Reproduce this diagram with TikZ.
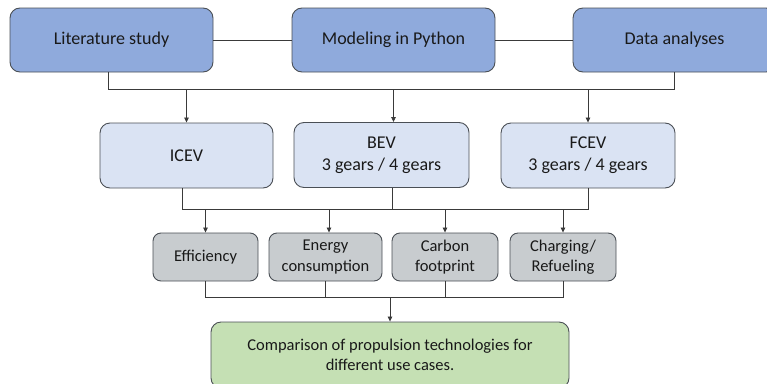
\documentclass[tikz,border=0pt]{standalone}
\usepackage{fontspec}
\setmainfont{Carlito}
\usetikzlibrary{arrows.meta}
\definecolor{topfill}{HTML}{8FAADC}
\definecolor{midfill}{HTML}{DAE3F3}
\definecolor{grayfill}{HTML}{C8CCCF}
\definecolor{greenfill}{HTML}{C5E0B4}
\definecolor{edge}{HTML}{4A4F55}
\definecolor{conn}{HTML}{3A3A3A}
\tikzset{
  box/.style={draw=edge, line width=0.9pt, rounded corners=10pt, align=center, inner sep=0pt, text=black!90},
  topbox/.style={box, fill=topfill, minimum width=203pt, minimum height=64pt, font=\fontsize{18}{22}\selectfont},
  midbox/.style={box, fill=midfill, minimum height=65pt, font=\fontsize{18}{22}\selectfont},
  graybox/.style={box, fill=grayfill, rounded corners=8pt, minimum height=48pt, font=\fontsize{16.5}{20.5}\selectfont},
  greenbox/.style={box, fill=greenfill, minimum width=358pt, minimum height=66pt, font=\fontsize{16.5}{20.5}\selectfont},
  conn/.style={draw=conn, line width=0.8pt},
  arr/.style={conn, -{Triangle[length=5pt,width=4.5pt]}}
}
\begin{document}
\begin{tikzpicture}[x=1pt,y=-1pt]
\useasboundingbox (0,0) rectangle (767,383);
\clip (0,0) rectangle (767,383);
% top row
\node[topbox] (lit) at (111.5,40) {Literature study};
\node[topbox] (mod) at (393.5,40) {Modeling in Python};
\node[topbox] (data) at (674.5,40) {Data analyses};
% middle row
\node[midbox, minimum width=173pt] (icev) at (186.5,155.5) {ICEV};
\node[midbox, minimum width=175pt] (bev) at (381.5,155) {BEV\\3 gears / 4 gears};
\node[midbox, minimum width=174pt] (fcev) at (588,155.5) {FCEV\\3 gears / 4 gears};
% gray row
\node[graybox, minimum width=105pt] (eff) at (205.5,257) {Efficiency};
\node[graybox, minimum width=113pt] (energy) at (325.5,257) {Energy\\consumption};
\node[graybox, minimum width=106pt] (carbon) at (445,257) {Carbon\\footprint};
\node[graybox, minimum width=106pt] (charge) at (563,257) {Charging/\\Refueling};
% green
\node[greenbox] (comp) at (390,355) {Comparison of propulsion technologies for\\different use cases.};
% bus coordinates
\coordinate (bus1) at (0,89);
\coordinate (bus2) at (0,209);
\coordinate (bus3) at (0,297);
% top connectors
\draw[conn] (lit.east) -- (mod.west);
\draw[conn] (mod.east) -- (data.west);
\draw[conn] ([xshift=-3.5pt]lit.south) -- ([xshift=-3.5pt]lit.south |- bus1) -- (data.south |- bus1) -- (data.south);
\draw[arr] (icev.north |- bus1) -- (icev.north);
\draw[arr] (mod.south |- bus1) -- (mod.south |- bev.north);
\draw[arr] (fcev.north |- bus1) -- (fcev.north);
% middle connectors
\draw[conn] ([xshift=-4.5pt]icev.south) -- ([xshift=-4.5pt]icev.south |- bus2) -- (fcev.south |- bus2) -- (fcev.south);
\draw[conn] ([xshift=10.5pt]bev.south) -- ([xshift=10.5pt]bev.south |- bus2);
\draw[arr] (eff.north |- bus2) -- (eff.north);
\draw[arr] ([xshift=3.5pt]energy.north |- bus2) -- ([xshift=3.5pt]energy.north);
\draw[arr] (carbon.north |- bus2) -- (carbon.north);
\draw[arr] (charge.north |- bus2) -- (charge.north);
% lower connectors
\draw[conn] (eff.south) -- (eff.south |- bus3) -- (charge.south |- bus3) -- (charge.south);
\draw[conn] (energy.south) -- (energy.south |- bus3);
\draw[conn] (carbon.south) -- (carbon.south |- bus3);
\draw[arr] (comp.north |- bus3) -- (comp.north);
\end{tikzpicture}
\end{document}
